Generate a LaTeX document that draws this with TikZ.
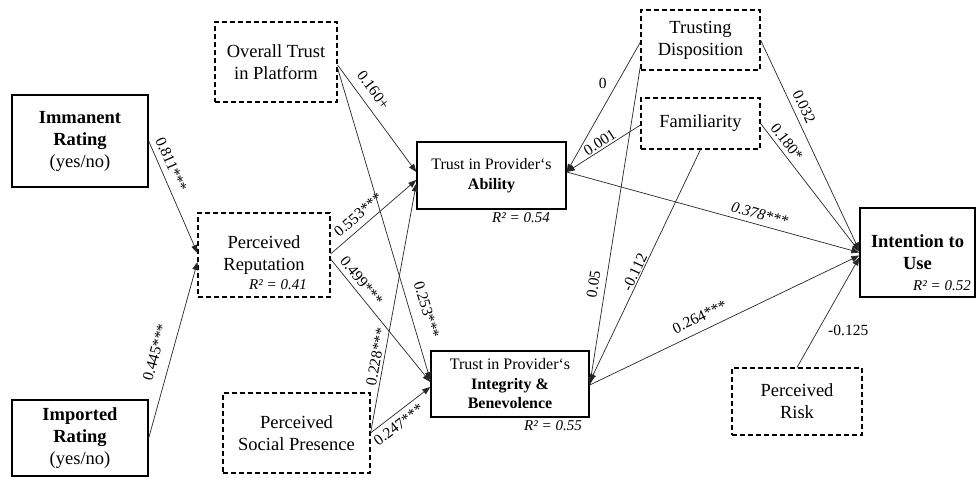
\documentclass[tikz,border=0pt]{standalone}
\usepackage{fontspec}
\setmainfont{Liberation Serif}
\usetikzlibrary{arrows.meta}
\begin{document}
\begin{tikzpicture}[x=1pt,y=-1pt,
  box/.style={draw, line width=1.4pt, inner sep=0pt, align=center, font=\fontsize{18.5}{22}\selectfont},
  dbox/.style={box, line width=1.1pt, dash pattern=on 5pt off 3pt},
  tbox/.style={box, font=\fontsize{16}{19.5}\selectfont},
  rsq/.style={inner sep=0pt, font=\fontsize{15}{18}\selectfont\itshape},
  conn/.style={draw=black!85, line width=0.7pt},
  arr/.style={conn, -{Triangle[length=8pt,width=6pt]}},
  lab/.style={sloped, inner sep=0pt, font=\fontsize{15.5}{18}\selectfont},
  plab/.style={inner sep=0pt, font=\fontsize{15.5}{18}\selectfont},
]
\useasboundingbox (0,0) rectangle (976,477);

% boxes
\node[box, minimum width=136pt, minimum height=92pt] (imm) at (80,141) {\textbf{Immanent}\\\textbf{Rating}\\(yes/no)};
\node[box, minimum width=136pt, minimum height=76pt] (imp) at (80,438) {\textbf{Imported}\\\textbf{Rating}\\(yes/no)};
\node[dbox, minimum width=132pt, minimum height=84pt] (rep) at (264,255) {Perceived\\Reputation};
\node[rsq] (rrep) at (278,285) {R² = 0.41};
\node[dbox, minimum width=122pt, minimum height=80pt] (otp) at (276,62) {Overall Trust\\in Platform};
\node[dbox, minimum width=147pt, minimum height=80pt] (psp) at (296.5,433) {Perceived\\Social Presence};
\node[tbox, minimum width=149pt, minimum height=67pt] (abi) at (491.5,175.5) {Trust in Provider‘s\\\textbf{Ability}};
\node[rsq] (rabi) at (521,218) {R² = 0.54};
\node[tbox, minimum width=158pt, minimum height=66pt] (ib) at (510,384) {Trust in Provider‘s\\\textbf{Integrity \&}\\\textbf{Benevolence}};
\node[rsq] (rib) at (553,426) {R² = 0.55};
\node[dbox, minimum width=119pt, minimum height=60pt] (td) at (700.5,40) {Trusting\\Disposition};
\node[dbox, minimum width=119pt, minimum height=51pt] (fam) at (700.5,123.5) {Familiarity};
\node[box, minimum width=115pt, minimum height=89pt] (itu) at (917.5,252.5) {\textbf{Intention to}\\\textbf{Use}};
\node[rsq] (ritu) at (942,286) {R² = 0.52};
\node[dbox, minimum width=130pt, minimum height=67pt] (risk) at (797,401.5) {Perceived\\Risk};

% connectors
\draw[arr] (imm.east) -- node[lab, above=5.7pt, pos=0.25] {0.811***} ([yshift=2pt]rep.west);
\draw[arr] (imp.east) -- node[lab, above=11pt, pos=0.46] {0.445***} ([yshift=-7pt]rep.west);
\draw[arr] ([yshift=-3pt]otp.east) -- node[lab, above=8.5pt, pos=0.31] {0.160+} ([yshift=3.5pt]abi.west);
\draw[arr] ([yshift=-6pt]otp.east) -- node[lab, above=11pt, pos=0.79] {0.253***} ([yshift=4pt]ib.west);
\draw[arr] ([yshift=1pt]rep.east) -- node[lab, above=6pt, pos=0.41] {0.553***} ([yshift=-4.5pt]abi.west);
\draw[arr] ([yshift=-4pt]rep.east) -- node[lab, above=4.7pt, pos=0.23] {0.499***} ([yshift=2pt]ib.west);
\draw[arr] (psp.east) -- node[lab, above=2.6pt, pos=0.30] {0.228***} ([yshift=-8pt]abi.west);
\draw[arr] (psp.east) -- node[lab, below=5pt, pos=0.36] {0.247***} ([yshift=-3pt]ib.west);
\draw[arr] ([yshift=-2pt]td.west) -- node[plab, pos=0.32, xshift=-14pt] {0} ([yshift=3.5pt]abi.east);
\draw[arr] ([yshift=-1.5pt]fam.west) -- node[lab, above=1.5pt, pos=0.5] {0.001} ([yshift=3.5pt]abi.east);
\draw[arr] ([yshift=5pt]td.south west) -- node[lab, above=6.5pt, pos=0.69] {0.05} ([yshift=-1pt]ib.east);
\draw[arr] (fam.south) -- node[lab, above=1pt, pos=0.54] {-0.112} ([yshift=2pt]ib.east);
\draw[arr] ([yshift=3.5pt]abi.east) -- node[lab, above=4.8pt, pos=0.65] {\itshape 0.378***} (itu.west);
\draw[arr] ([yshift=-1pt]ib.east) -- node[lab, above=8.2pt, pos=0.43] {0.264***} ([yshift=-3pt]itu.west);
\draw[arr] (td.east) -- node[lab, above=5.5pt, pos=0.34] {0.032} ([yshift=2pt]itu.west);
\draw[arr] (fam.east) -- node[lab, above=4pt, pos=0.19] {0.180*} ([yshift=1pt]itu.west);
\draw[arr] (risk.north) -- node[plab, pos=0.335, anchor=west, xshift=10pt] {-0.125} ([yshift=-5pt]itu.west);
\end{tikzpicture}
\end{document}
